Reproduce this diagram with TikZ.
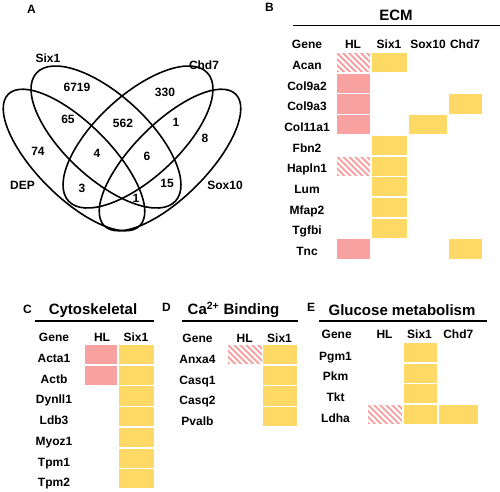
\documentclass[tikz,border=0pt]{standalone}
\usepackage{fontspec}
\setmainfont{Liberation Sans}
\usepackage{tikz}
\usetikzlibrary{positioning}
\definecolor{PNK}{HTML}{F7A1A1}
\definecolor{YEL}{HTML}{FFD966}
\tikzset{
  CEL/.style={% Base style for the table cells
      rectangle,
      anchor=north,
      minimum height=20.7pt,
      inner sep=0pt,
      draw=white,
      line width=1.5pt,
  },
  PNK/.style={CEL, fill=PNK},% Pink cell
  YEL/.style={CEL, fill=YEL},% Yellow cell
  HAT/.style={% Hatched pink cell
      CEL, fill=white,
      path picture={
        \foreach \k in {-24,-18,...,42}
          \draw[draw=PNK, line width=1.8pt]
            ([xshift=\k pt]path picture bounding box.north west) -- ++(24pt,-24pt);
      },
  },
  GEN/.style={font=\fontsize{12}{14}\selectfont\bfseries, anchor=base, inner sep=0pt},
  TTL/.style={font=\fontsize{15}{18}\selectfont\bfseries, anchor=base, inner sep=0pt},
  PAN/.style={font=\fontsize{12}{14}\selectfont\bfseries, anchor=base west, inner sep=0pt},
  NUM/.style={font=\fontsize{12}{14}\selectfont\bfseries, inner sep=0pt},
  VEN/.style={draw=black, line width=1.6pt},
  BAR/.style={draw=black, line width=1.5pt},
}
\def\genes(#1)#2#3{% Column of gene names: first baseline, table id, names
  \begin{scope}[shift={(#1)}]
    \foreach \g [count=\i from 0] in {#3} {%
      \node[GEN] (#2\g) at (0,\i*20.7) {\g}; % one name per row
    }
  \end{scope}
}
\def\cells(#1)#2[#3]#4{% Column of cells: top centre, column id, width, row/style
  \begin{scope}[shift={(#1)}]
    \foreach \r/\s in {#4} {%
      \node[\s, minimum width=#3] (#2\r) at (0,\r*20.7) {}; % cell in row \r
    }
  \end{scope}
}

\begin{document}
\begin{tikzpicture}[x=1pt, y=-1pt]
  \useasboundingbox (0,0) rectangle (500,491);
  % A: Venn diagram
  \node[PAN] (pA) at (27,13.3) {A};
  \draw[VEN, rotate around={-45:(74,160)}] (74,160) ellipse [x radius=93, y radius=37];
  \draw[VEN, rotate around={-42.7:(106,137)}] (106,137) ellipse [x radius=94.5, y radius=41.6];
  \draw[VEN, rotate around={42.7:(138,137)}] (138,137) ellipse [x radius=94.5, y radius=41.6];
  \draw[VEN, rotate around={45:(170,160)}] (170,160) ellipse [x radius=93, y radius=37];
  \node[NUM] (lSix) at (48,58) {Six1};
  \node[NUM] (lChd) at (204,65) {Chd7};
  \node[NUM] (lDEP) at (22.5,185) {DEP};
  \node[NUM] (lSox) at (225,185) {Sox10};
  \foreach \n/\x/\y [count=\i] in {6719/77/87, 330/165/92, 65/68/119, 562/123/123,
      1/176/122, 74/38/151, 4/97/153, 6/147/156, 8/205/138, 3/82/188, 15/167/183, 1/136/198}
    \node[NUM] (n\i) at (\x,\y) {\n};

  % B: ECM
  \node[PAN] (pB) at (265,11.7) {B};
  \node[TTL] (tB) at (396,20.7) {ECM};
  \draw[BAR] (293,25.5) -- (500,25.5);
  \foreach \h/\x in {Gene/307, HL/353, Six1/389, Sox10/428, Chd7/465}
    \node[GEN] (Bh\h) at (\x,48.3) {\h};
  \genes(307,69.3){B}{Acan,Col9a2,Col9a3,Col11a1,Fbn2,Hapln1,Lum,Mfap2,Tgfbi,Tnc}
  \cells(353.5,51.5){BHL}[34.5pt]{0/HAT,1/PNK,2/PNK,3/PNK,5/HAT,9/PNK}
  \cells(389.5,51.5){BSix}[36.5pt]{0/YEL,4/YEL,5/YEL,6/YEL,7/YEL,8/YEL}
  \cells(428,51.5){BSox}[39.5pt]{3/YEL}
  \cells(465.5,51.5){BChd}[34.5pt]{2/YEL,9/YEL}

  % C: Cytoskeletal
  \node[PAN] (pC) at (23,313.3) {C};
  \node[TTL] (tC) at (93,314) {Cytoskeletal};
  \draw[BAR] (35,321) -- (154,321);
  \foreach \h/\x in {Gene/54, HL/102, Six1/136}
    \node[GEN] (Ch\h) at (\x,341.7) {\h};
  \genes(54,362.5){C}{Acta1,Actb,Dynll1,Ldb3,Myoz1,Tpm1,Tpm2}
  \cells(101,343.5){CHL}[33.5pt]{0/PNK,1/PNK}
  \cells(136.5,343.5){CSix}[36.5pt]{0/YEL,1/YEL,2/YEL,3/YEL,4/YEL,5/YEL,6/YEL}

  % D: Ca binding
  \node[PAN] (pD) at (162,311.7) {D};
  \node[TTL] (tD) at (233.5,314.5) {Ca\textsuperscript{2+} Binding};
  \draw[BAR] (182,321) -- (298,321);
  \foreach \h/\x in {Gene/197.5, HL/244.7, Six1/279.5}
    \node[GEN] (Dh\h) at (\x,342.5) {\h};
  \genes(197.5,363.5){D}{Anxa4,Casq1,Casq2,Pvalb}
  \cells(245,343.5){DHL}[35pt]{0/HAT}
  \cells(280,343.5){DSix}[35pt]{0/YEL,1/YEL,2/YEL,3/YEL}

  % E: Glucose metabolism
  \node[PAN] (pE) at (307,311) {E};
  \node[TTL] (tE) at (402,315.5) {Glucose metabolism};
  \draw[BAR] (319,321) -- (487,321);
  \foreach \h/\x in {Gene/336.7, HL/384.5, Six1/419.5, Chd7/458.3}
    \node[GEN] (Eh\h) at (\x,338.3) {\h};
  \genes(335.5,360){E}{Pgm1,Pkm,Tkt,Ldha}
  \cells(385,341.3){EHL}[35.5pt]{3/HAT}
  \cells(420.5,341.3){ESix}[34.5pt]{0/YEL,1/YEL,2/YEL,3/YEL}
  \cells(458.5,341.3){EChd}[40.5pt]{3/YEL}
\end{tikzpicture}
\end{document}
